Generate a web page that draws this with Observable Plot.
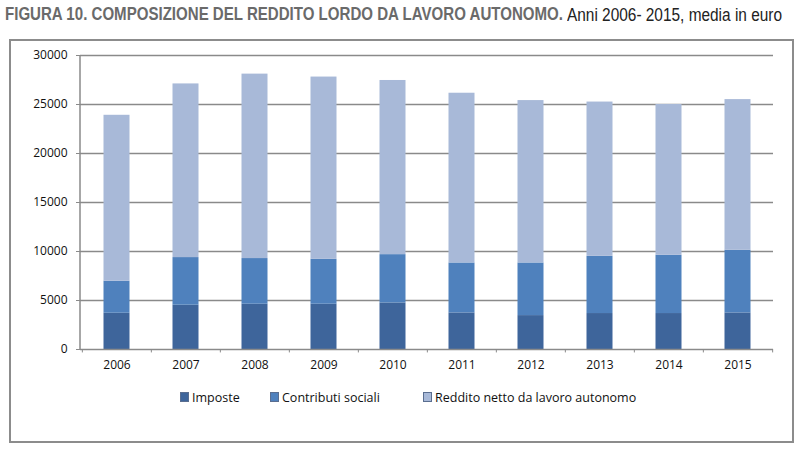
<!DOCTYPE html>
<html><head><meta charset="utf-8">
<script src="https://cdn.jsdelivr.net/npm/d3@7"></script>
<script src="https://cdn.jsdelivr.net/npm/@observablehq/plot@0.6"></script>
<style>
html,body{margin:0;padding:0;background:#fff;}
#wrap{position:relative;width:800px;height:451px;overflow:hidden;font-family:"Open Sans",sans-serif;}
.tt{position:absolute;top:4px;white-space:nowrap;font-family:"Liberation Sans",Arial,sans-serif;transform-origin:0 0;display:inline-block;}
#tb{left:5px;font-weight:bold;color:#6a6a6a;font-size:18px;}
#tn{left:567px;color:#222;font-size:17.5px;top:5px;}
#box{position:absolute;left:9px;top:39px;width:781px;height:400px;border:2px solid #8c8c8c;box-sizing:content-box;}
#chart{position:absolute;left:0;top:40px;}
#legend{position:absolute;top:389px;left:0;width:800px;font-size:12.5px;color:#111;}
.it{position:absolute;white-space:nowrap;}
.sw{display:inline-block;width:7px;height:8px;margin-right:3px;}
</style></head>
<body><div id="wrap">
<span class="tt" id="tb">FIGURA 10. COMPOSIZIONE DEL REDDITO LORDO DA LAVORO AUTONOMO.</span>
<span class="tt" id="tn">Anni 2006- 2015, media in euro</span>
<div id="box"></div>
<div id="chart"></div>
<div id="legend"></div>
</div>
<script>
const years = ["2006","2007","2008","2009","2010","2011","2012","2013","2014","2015"];
const series = ["Imposte","Contributi sociali","Reddito netto da lavoro autonomo"];
const colors = ["#3e659b","#4f81bd","#a8b9d8"];
const imposte    = [3700, 4520, 4620, 4620, 4750, 3730, 3460, 3670, 3670, 3730];
const contributi = [3270, 4860, 4660, 4580, 4930, 5100, 5370, 5840, 5940, 6390];
const reddito    = [16930,17720,18820,18600,17770,17320,16570,15740,15390,15380];
const yTicks = [0,5000,10000,15000,20000,25000,30000];

const values = [imposte, contributi, reddito];
const data = [];
series.forEach((s, i) => years.forEach((y, j) => data.push({year: y, serie: s, value: values[i][j]})));

const W = 800, H = 340, mL = 80, mR = 27;
const band = (W - mL - mR) / years.length;

const plot = Plot.plot({
  width: W, height: H,
  marginLeft: mL, marginRight: mR, marginTop: 15, marginBottom: 31,
  style: {fontFamily: "'Open Sans', sans-serif", fontSize: "12px", color: "#111", background: "transparent"},
  x: {domain: years, padding: 0, label: null},
  y: {domain: [0, 30000], label: null},
  color: {domain: series, range: colors},
  marks: [
    Plot.ruleY(yTicks.filter(d => d > 0), {stroke: "#8a8a8a", strokeWidth: 1.6}),
    Plot.barY(data, {x: "year", y: "value", fill: "serie", insetLeft: 21.5, insetRight: 21.5,
      order: series}),
    Plot.ruleY([0], {stroke: "#8a8a8a", strokeWidth: 1.5}),
    Plot.axisY({ticks: yTicks, tickSize: 4, tickPadding: 9, tickFormat: d => String(d), stroke: "#8a8a8a", fill: "#111"}),
    Plot.axisX({tickSize: 0, tickPadding: 11, fill: "#111"}),
    Plot.ruleX(years, {x: d => d, dx: -band/2, y1: 0, y2: -350, stroke: "#8a8a8a"}),
    Plot.ruleX([years[years.length-1]], {x: d => d, dx: band/2, y1: 0, y2: -350, stroke: "#8a8a8a"})
  ]
});
const svg = d3.select(plot);
svg.append("line").attr("x1", mL).attr("x2", mL).attr("y1", 15).attr("y2", H - 31)
  .attr("stroke", "#8a8a8a").attr("stroke-width", 1.5);
document.getElementById("chart").appendChild(plot);

// fit condensed title pieces to their widths
function fit(id, target) {
  const el = document.getElementById(id);
  const w = el.getBoundingClientRect().width;
  el.style.transform = `scaleX(${target / w})`;
}
fit("tb", 558);
fit("tn", 215);

const legPos = [180, 270, 423];
const leg = document.getElementById("legend");
series.forEach((s, i) => {
  const d = document.createElement("div");
  d.className = "it";
  d.style.left = legPos[i] + "px";
  d.innerHTML = `<span class="sw" style="background:${colors[i]};border:0.5px solid #5a6e90"></span>${s}`;
  leg.appendChild(d);
});
</script>
</body></html>
